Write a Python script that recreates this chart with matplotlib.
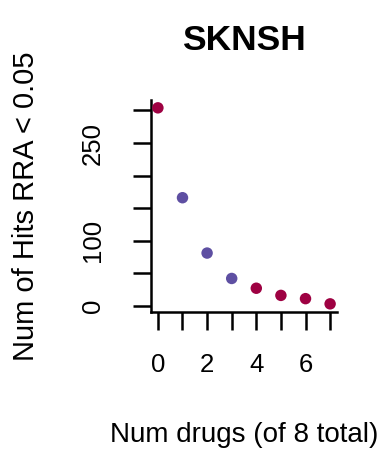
from matplotlib import pyplot as plt
import numpy as np

plt.rcParams['font.family'] = ['Liberation Sans', 'DejaVu Sans']

# data
num_drugs = [0, 1, 2, 3, 4, 5, 6, 7]
num_hits = [304, 166, 81, 42, 27, 16, 11, 3]
point_cols = ['#9E0142', '#5E4FA2', '#5E4FA2', '#5E4FA2', '#9E0142', '#9E0142', '#9E0142', '#9E0142']
y_ticks = [0, 50, 100, 150, 200, 250, 300]
y_tick_labels = ['0', '', '100', '', '', '250', '']
x_ticks = [0, 1, 2, 3, 4, 5, 6, 7]
x_tick_labels = ['0', '', '2', '', '4', '', '6', '']

fig = plt.figure(figsize=(3.86, 4.51), dpi=100)
ax = fig.add_axes((151 / 386, 139.3 / 451, 186 / 386, 211.7 / 451))

ax.scatter(num_drugs, num_hits, c=point_cols, s=68, edgecolors='none', zorder=3, clip_on=False)

# R-style 4% padding
xr = max(num_drugs) - min(num_drugs)
yr = max(num_hits) - min(num_hits)
ax.set_xlim(min(num_drugs) - 0.04 * xr, max(num_drugs) + 0.04 * xr)
ax.set_ylim(min(num_hits) - 0.04 * yr, max(num_hits) + 0.04 * yr)

ax.spines['top'].set_visible(False)
ax.spines['right'].set_visible(False)
for s in ['left', 'bottom']:
    ax.spines[s].set_linewidth(1.8)
    ax.spines[s].set_capstyle('projecting')

ax.set_yticks(y_ticks)
ax.set_yticklabels(y_tick_labels, rotation=90, va='center')
ax.set_xticks(x_ticks)
ax.set_xticklabels(x_tick_labels)
ax.tick_params(axis='both', direction='out', length=13, width=1.8, labelsize=18.5)
ax.tick_params(axis='y', pad=20)
ax.tick_params(axis='x', pad=17)

ax.set_title('SKNSH', fontsize=25.5, fontweight='bold', pad=36)
ax.set_xlabel('Num drugs (of 8 total)', fontsize=20, labelpad=32)
ax.set_ylabel('Num of Hits RRA < 0.05', fontsize=21, labelpad=30)

fig.savefig('out.png', dpi=100)
